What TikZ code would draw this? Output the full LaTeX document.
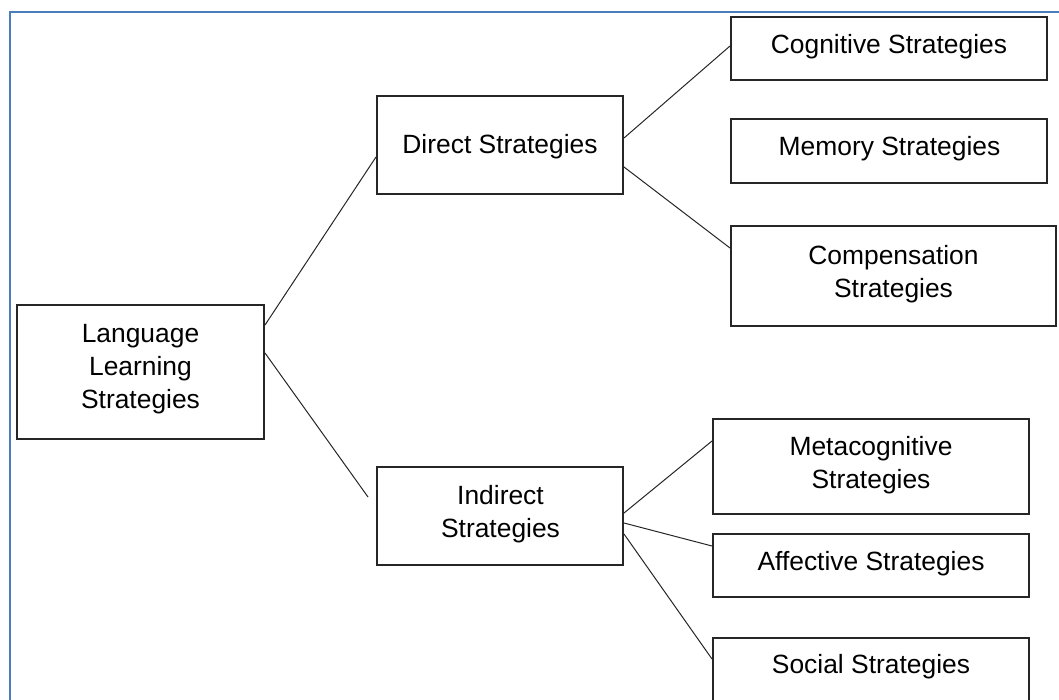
\documentclass[tikz,border=0pt]{standalone}
\usepackage{fontspec}
\setmainfont{Liberation Sans}
\definecolor{frameblue}{RGB}{74,126,187}
\definecolor{boxline}{RGB}{38,38,38}
\tikzset{
  box/.style={draw=boxline, line width=2pt, rectangle, inner sep=0pt, fill=white},
  txt/.style={font=\fontsize{26.4}{33}\selectfont, align=center, inner sep=0pt, anchor=base, text=black},
  conn/.style={draw=boxline, line width=1pt},
}
\begin{document}
\begin{tikzpicture}[x=1pt, y=-1pt]
\useasboundingbox (0,0) rectangle (1059,699);
\begin{scope}
\clip (0,0) rectangle (1059,699);
% frame
\draw[frameblue, line width=2.8pt] (10,710) -- (10,12) -- (1070,12);

% boxes
\node[box, minimum width=247pt, minimum height=134pt] (lls) at (140.5,372) {};
\node[box, minimum width=246pt, minimum height=98pt] (dir) at (500,145) {};
\node[box, minimum width=246pt, minimum height=98pt] (ind) at (500,516) {};
\node[box, minimum width=316pt, minimum height=63pt] (cog) at (889,48.5) {};
\node[box, minimum width=316pt, minimum height=64pt] (mem) at (889,151) {};
\node[box, minimum width=325pt, minimum height=100pt] (comp) at (893.5,276) {};
\node[box, minimum width=316pt, minimum height=95pt] (meta) at (871,466.5) {};
\node[box, minimum width=316pt, minimum height=63pt] (aff) at (871,565.5) {};
\node[box, minimum width=316pt, minimum height=68pt] (soc) at (871,672) {};

% texts (anchor base = baseline of the last line)
\node[txt] (llst) at (140.5,408) {Language\\Learning\\Strategies};
\node[txt] (dirt) at (500,153) {Direct Strategies};
\node[txt] (indt) at (500.5,537) {Indirect\\Strategies};
\node[txt] (cogt) at (889,53) {Cognitive Strategies};
\node[txt] (memt) at (889.5,155) {Memory Strategies};
\node[txt] (compt) at (893.5,297) {Compensation\\Strategies};
\node[txt] (metat) at (871,488) {Metacognitive\\Strategies};
\node[txt] (afft) at (871,570) {Affective Strategies};
\node[txt] (soct) at (871,673) {Social Strategies};

% connectors
\coordinate (indgap) at (368,497);
\draw[conn] (lls.east |- {(0,325)}) -- (dir.west |- {(0,157)});
\draw[conn] (lls.east |- {(0,353)}) -- (indgap);
\draw[conn] (dir.east |- {(0,138)}) -- (cog.west |- {(0,46)});
\draw[conn] (dir.east |- {(0,167)}) -- (comp.west |- {(0,248)});
\draw[conn] (ind.east |- {(0,513)}) -- (meta.west |- {(0,441)});
\draw[conn] (ind.east |- {(0,523)}) -- (aff.west |- {(0,546)});
\draw[conn] (ind.east |- {(0,534)}) -- (soc.west |- {(0,659)});
\end{scope}
\end{tikzpicture}
\end{document}
